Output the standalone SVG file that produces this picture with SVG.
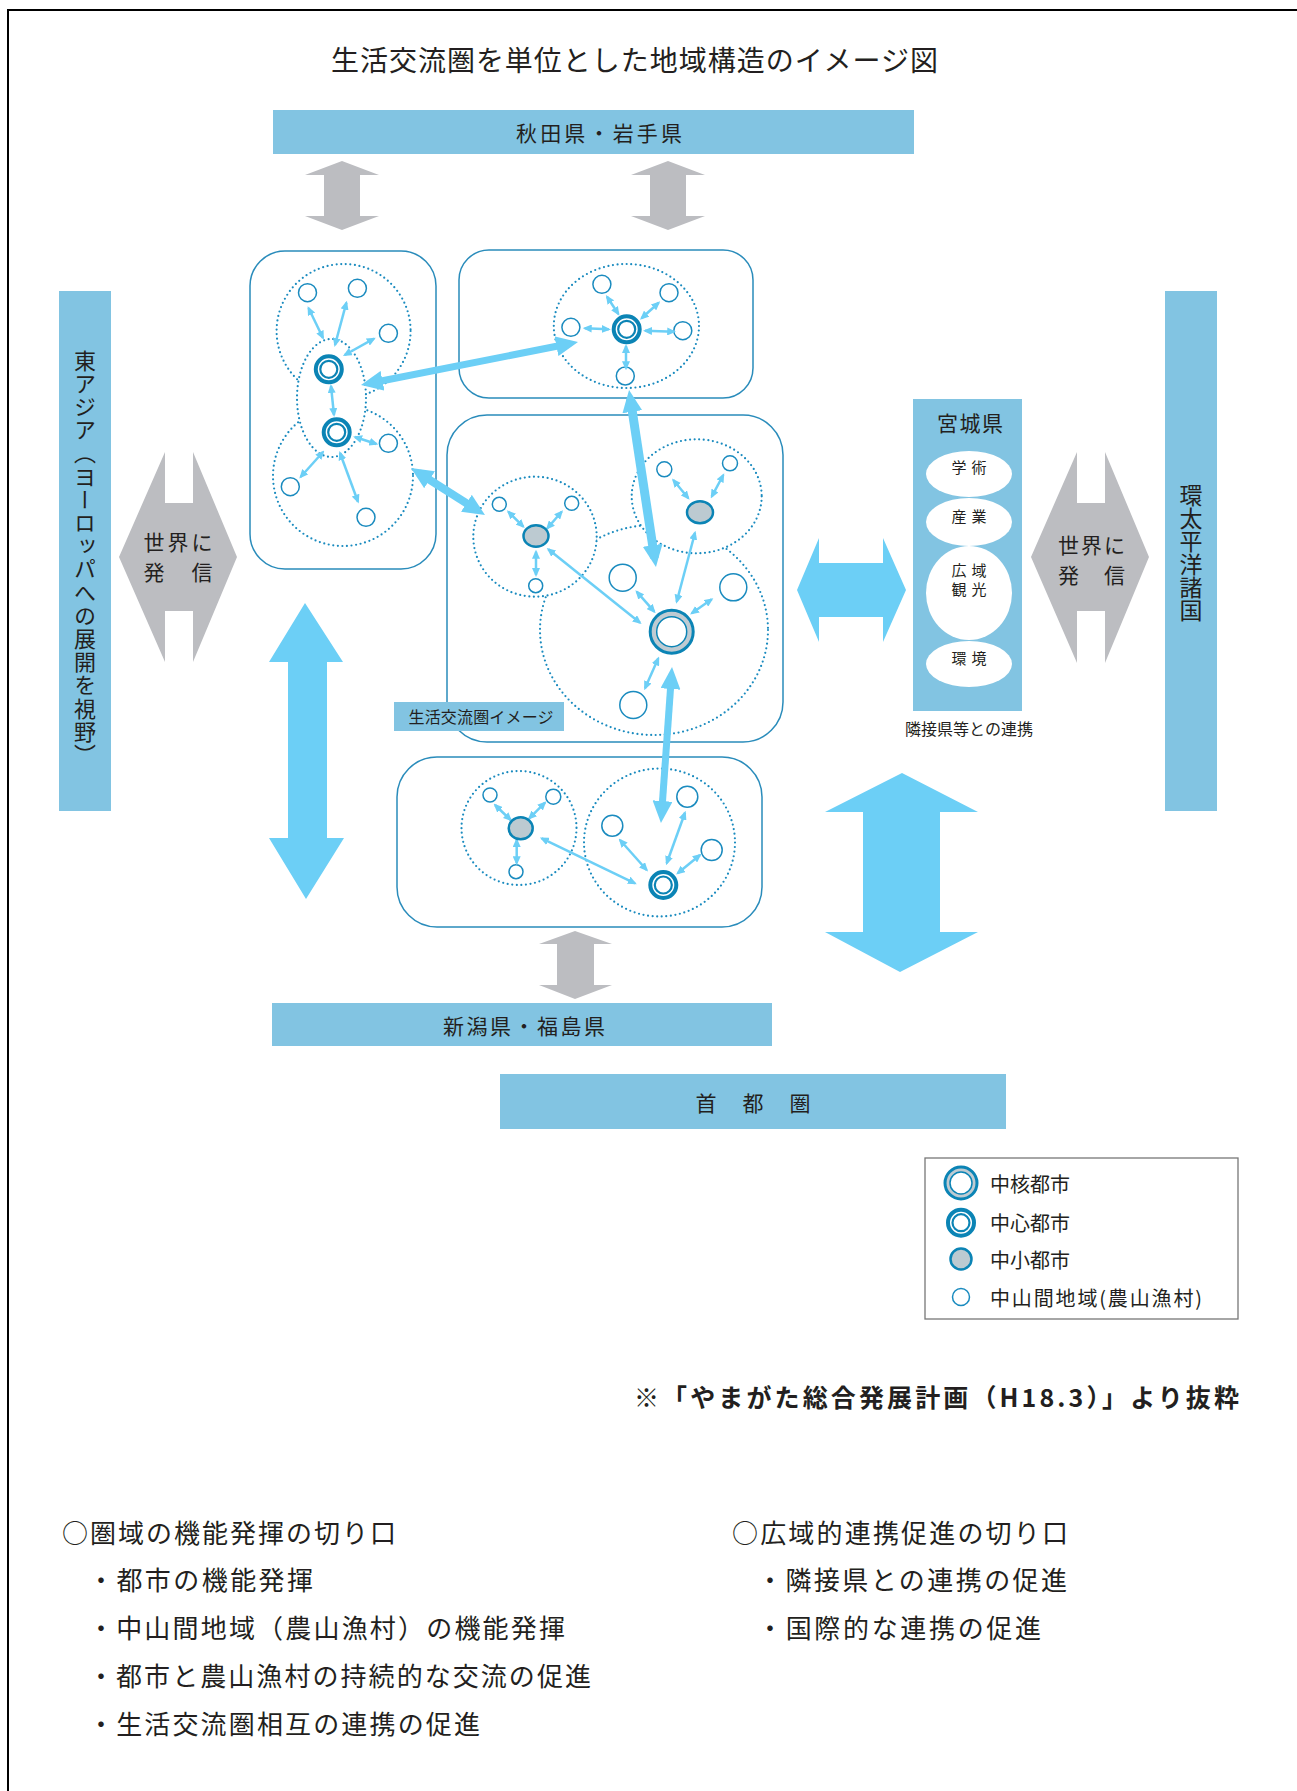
<svg xmlns="http://www.w3.org/2000/svg" width="1297" height="1791" viewBox="0 0 1297 1791">
<defs>
<marker id="ms" viewBox="0 0 9 8" markerWidth="9" markerHeight="8" refX="7" refY="4" orient="auto-start-reverse" markerUnits="userSpaceOnUse"><path d="M0,0 L9,4 L0,8 z" fill="#6ccff6"/></marker>
<marker id="ml" viewBox="0 0 22 20" markerWidth="22" markerHeight="20" refX="13" refY="10" orient="auto-start-reverse" markerUnits="userSpaceOnUse"><path d="M0,0 L22,10 L0,20 z" fill="#6ccff6"/></marker>
<g id="sym-chushin"><circle r="13" fill="#fff" stroke="#0b84b5" stroke-width="4"/><circle r="8.5" fill="none" stroke="#0b84b5" stroke-width="2.2"/></g>
<style>
text{font-family:"Noto Sans CJK JP","Noto Sans",sans-serif;fill:#231f20}
.bar{fill:#82c4e2}
.box{fill:#fff;stroke:#2a8cbb;stroke-width:1.5}
.dot{fill:#fff;stroke:#1a8bbf;stroke-width:2.2;stroke-dasharray:0 4.6;stroke-linecap:round}
.sm{fill:#fff;stroke:#1a8bbf;stroke-width:1.5}
.mid{fill:#bccad1;stroke:#0b84b5;stroke-width:2.5}
.sa{stroke:#6ccff6;stroke-width:2.5;marker-start:url(#ms);marker-end:url(#ms)}
.la{stroke:#6ccff6;marker-start:url(#ml);marker-end:url(#ml)}
.gray{fill:#bcbdc1}
.blue{fill:#6ccff6}
.c{text-anchor:middle;dominant-baseline:central}
.l{dominant-baseline:central}
</style>
</defs>
<rect width="1297" height="1791" fill="#fff"/>
<path d="M8,1791 V10 H1297" fill="none" stroke="#000" stroke-width="2"/>

<text class="c" x="634.5" y="59" font-size="28" textLength="607">生活交流圏を単位とした地域構造のイメージ図</text>

<g id="akita">
<rect class="bar" x="273" y="110" width="641" height="44"/>
<text class="c" x="599" y="132" font-size="21" textLength="166">秋田県・岩手県</text>
</g>
<g id="eastasia">
<rect class="bar" x="59" y="291" width="52" height="520"/>
<text x="85" y="558" text-anchor="middle" font-size="22" letter-spacing="1.2" style="writing-mode:vertical-rl">東アジア（ヨーロッパへの展開を視野）</text>
</g>
<g id="pacific">
<rect class="bar" x="1165" y="291" width="52" height="520"/>
<text x="1191" y="553" text-anchor="middle" font-size="23" style="writing-mode:vertical-rl">環太平洋諸国</text>
</g>
<g id="niigata">
<rect class="bar" x="272" y="1003" width="500" height="43"/>
<text class="c" x="524" y="1025" font-size="21" textLength="162">新潟県・福島県</text>
</g>
<g id="shutoken">
<rect class="bar" x="500" y="1074" width="506" height="55"/>
<text class="c" x="753" y="1102" font-size="21" textLength="115">首　都　圏</text>
</g>

<g id="hex-left">
<polygon class="gray" points="119,557 165,452 165,503 193,503 193,452 237,557 193,662 193,611 165,611 165,662"/>
<text class="c" x="178" y="541" font-size="21" textLength="69">世界に</text>
<text class="c" x="178" y="571" font-size="21" textLength="69">発　信</text>
</g>
<g id="hex-right">
<polygon class="gray" points="1031,557 1077,452 1077,503 1105,503 1105,452 1149,557 1105,663 1105,611 1077,611 1077,663"/>
<text class="c" x="1091.5" y="544" font-size="21" textLength="67">世界に</text>
<text class="c" x="1091.5" y="574" font-size="21" textLength="67">発　信</text>
</g>

<g id="miyagi">
<rect class="bar" x="913" y="399" width="109" height="312"/>
<text class="c" x="970" y="422" font-size="21" textLength="66">宮城県</text>
<ellipse cx="969" cy="474" rx="43" ry="23" fill="#fff"/>
<ellipse cx="969" cy="522" rx="43" ry="24" fill="#fff"/>
<ellipse cx="969" cy="593" rx="43" ry="47" fill="#fff"/>
<ellipse cx="969" cy="664" rx="43" ry="23" fill="#fff"/>
<text class="c" x="969" y="466" font-size="15" textLength="35">学 術</text>
<text class="c" x="969" y="515" font-size="15" textLength="35">産 業</text>
<text class="c" x="969" y="569" font-size="15" textLength="35">広 域</text>
<text class="c" x="969" y="588" font-size="15" textLength="35">観 光</text>
<text class="c" x="969" y="657" font-size="15" textLength="35">環 境</text>
<text class="c" x="969" y="728" font-size="16" textLength="128">隣接県等との連携</text>
</g>

<g id="box-a">
<rect class="box" x="250" y="251" width="186" height="318" rx="35"/>
<ellipse class="dot" cx="343.6" cy="331" rx="67" ry="67"/>
<ellipse class="dot" cx="343" cy="476" rx="70" ry="70"/>
<ellipse class="dot" cx="331.5" cy="398" rx="34.5" ry="59"/>
<circle class="sm" cx="307.5" cy="292.7" r="9"/>
<circle class="sm" cx="357.4" cy="288.3" r="9"/>
<circle class="sm" cx="388.4" cy="333.3" r="9"/>
<circle class="sm" cx="388.4" cy="443.3" r="9"/>
<circle class="sm" cx="290.3" cy="486.7" r="9"/>
<circle class="sm" cx="366" cy="517.3" r="9"/>
</g>
<g id="box-b">
<rect class="box" x="459" y="250" width="294" height="148" rx="30"/>
<ellipse class="dot" cx="626.4" cy="326" rx="72.6" ry="62"/>
<circle class="sm" cx="601.9" cy="284.3" r="9"/>
<circle class="sm" cx="669" cy="292.7" r="9"/>
<circle class="sm" cx="570.9" cy="327.3" r="9"/>
<circle class="sm" cx="682.8" cy="330.7" r="9"/>
<circle class="sm" cx="625.3" cy="376" r="9"/>
</g>
<g id="box-c">
<rect class="box" x="447" y="415" width="336" height="327" rx="40"/>
<ellipse class="dot" cx="654" cy="630" rx="114" ry="105"/>
<ellipse class="dot" cx="535" cy="536.7" rx="61.7" ry="60"/>
<ellipse class="dot" cx="696.7" cy="496.3" rx="65" ry="57"/>
<circle class="sm" cx="499.3" cy="504.3" r="7"/>
<circle class="sm" cx="571.7" cy="503.3" r="7"/>
<circle class="sm" cx="535.7" cy="585.7" r="7"/>
<circle class="sm" cx="664.3" cy="469.3" r="7.5"/>
<circle class="sm" cx="730" cy="463.3" r="7.5"/>
<circle class="sm" cx="622.7" cy="577.7" r="13.5"/>
<circle class="sm" cx="733.3" cy="587.3" r="13.5"/>
<circle class="sm" cx="633.3" cy="705" r="13.5"/>
</g>
<g id="box-d">
<rect class="box" x="397" y="757" width="365" height="170" rx="40"/>
<ellipse class="dot" cx="519" cy="828" rx="57.5" ry="57"/>
<ellipse class="dot" cx="659.5" cy="842.5" rx="75.5" ry="74"/>
<circle class="sm" cx="490" cy="795" r="7"/>
<circle class="sm" cx="553.3" cy="796.7" r="7.5"/>
<circle class="sm" cx="516" cy="871.7" r="7"/>
<circle class="sm" cx="612.3" cy="825.7" r="10.5"/>
<circle class="sm" cx="687.3" cy="796.7" r="10.5"/>
<circle class="sm" cx="711.7" cy="850" r="10.5"/>
</g>
<g id="label-image">
<rect class="bar" x="394" y="702" width="170" height="29"/>
<text class="c" x="481" y="716" font-size="16" textLength="145">生活交流圏イメージ</text>
</g>

<g id="connectors">
<polygon class="gray" points="342,161 379,175 360,175 360,216 379,216 342,230 305,216 324,216 324,175 305,175"/>
<polygon class="gray" points="668,161 705,175 686,175 686,216 705,216 668,230 631,216 650,216 650,175 631,175"/>
<polygon class="gray" points="575,931 612,944 594,944 594,985 612,985 575,999 539,985 557,985 557,944 539,944"/>
<polygon class="blue" points="305,603 343,662 327,662 327,838 344,838 306,899 269,838 288,838 288,662 269,662"/>
<polygon class="blue" points="902,773 978,812 940,812 940,932 978,932 900,972 825,932 863,932 863,812 825,812"/>
<polygon class="blue" points="797,590 819,538 819,563 883,563 883,538 906,590 883,642 883,617 819,617 819,642"/>
<line class="sa" x1="323" y1="338" x2="308.5" y2="308"/>
<line class="sa" x1="335" y1="345" x2="346.4" y2="302.7"/>
<line class="sa" x1="344.7" y1="355" x2="374" y2="338.7"/>
<line class="sa" x1="331" y1="386" x2="334" y2="415"/>
<line class="sa" x1="355" y1="437" x2="376.4" y2="444"/>
<line class="sa" x1="323" y1="452" x2="300.6" y2="477"/>
<line class="sa" x1="340" y1="453" x2="358" y2="501.7"/>
<line class="sa" x1="607" y1="296.7" x2="618.4" y2="314"/>
<line class="sa" x1="658.7" y1="302.7" x2="641.5" y2="318.3"/>
<line class="sa" x1="584.7" y1="328.3" x2="608.8" y2="329.3"/>
<line class="sa" x1="645" y1="330.7" x2="674.2" y2="331.7"/>
<line class="sa" x1="626" y1="346" x2="626" y2="368.3"/>
<line class="sa" x1="508.3" y1="511.7" x2="523.3" y2="526.7"/>
<line class="sa" x1="561.7" y1="511.7" x2="547.3" y2="528.3"/>
<line class="sa" x1="536" y1="551.7" x2="536" y2="575"/>
<line class="sa" x1="673.3" y1="480" x2="688.3" y2="498.3"/>
<line class="sa" x1="723.3" y1="475" x2="711.7" y2="496.7"/>
<line class="sa" x1="636.7" y1="591.7" x2="654.3" y2="611.7"/>
<line class="sa" x1="711.7" y1="599.3" x2="691.7" y2="613.3"/>
<line class="sa" x1="658.3" y1="658.3" x2="645" y2="688.3"/>
<line class="sa" x1="695" y1="532.7" x2="676.7" y2="601.7"/>
<line class="sa" x1="548.3" y1="549.3" x2="640" y2="622.7"/>
<line class="sa" x1="495" y1="805" x2="510.7" y2="820"/>
<line class="sa" x1="545" y1="802.7" x2="529.3" y2="818.3"/>
<line class="sa" x1="516.7" y1="840" x2="516.7" y2="863.3"/>
<line class="sa" x1="620" y1="840" x2="646.7" y2="870"/>
<line class="sa" x1="685" y1="812.7" x2="666.7" y2="863.3"/>
<line class="sa" x1="700" y1="855" x2="677.7" y2="873.3"/>
<line class="sa" x1="541.7" y1="838.3" x2="635" y2="883.3"/>
<line class="la" x1="369.8" y1="383.3" x2="569.2" y2="343.7" stroke-width="7"/>
<line class="la" x1="418.6" y1="472.8" x2="477.4" y2="510.2" stroke-width="8"/>
<line class="la" x1="630.4" y1="398.9" x2="654.6" y2="558.1" stroke-width="9"/>
<line class="la" x1="671.4" y1="676" x2="661.6" y2="814" stroke-width="7"/>
</g>

<g id="cities">
<use href="#sym-chushin" x="328.8" y="369.3"/>
<use href="#sym-chushin" x="336.7" y="432.3"/>
<use href="#sym-chushin" x="626.7" y="329.3"/>
<use href="#sym-chushin" x="663.3" y="885"/>
<ellipse class="mid" cx="536" cy="536" rx="12.5" ry="10.8"/>
<ellipse class="mid" cx="700" cy="512.3" rx="13" ry="11"/>
<ellipse class="mid" cx="520.7" cy="828.3" rx="12" ry="11"/>
<circle cx="671.7" cy="631.7" r="21.5" fill="#bfcbd2" stroke="#0b84b5" stroke-width="3"/>
<circle cx="671.7" cy="631.7" r="15" fill="#fff" stroke="#0b84b5" stroke-width="1.5"/>
</g>

<g id="legend">
<rect x="925" y="1158" width="313" height="161" fill="#fff" stroke="#777" stroke-width="1.3"/>
<circle cx="961" cy="1183" r="16" fill="#bfcbd2" stroke="#0b84b5" stroke-width="3"/>
<circle cx="961" cy="1183" r="11" fill="#fff" stroke="#0b84b5" stroke-width="1.5"/>
<use href="#sym-chushin" x="961" y="1222.7"/>
<circle class="mid" cx="961" cy="1259" r="10.5"/>
<circle class="sm" cx="961" cy="1297" r="8.5"/>
<text class="l" x="990" y="1183" font-size="20">中核都市</text>
<text class="l" x="990" y="1222" font-size="20">中心都市</text>
<text class="l" x="990" y="1259" font-size="20">中小都市</text>
<text class="l" x="990" y="1297" font-size="20" textLength="212">中山間地域(農山漁村)</text>
</g>

<text class="l" x="634" y="1396" font-size="25" font-weight="bold" textLength="605">※「やまがた総合発展計画（H18.3）」より抜粋</text>

<g id="notes" font-size="26">
<text class="l" x="62" y="1531" textLength="334">○圏域の機能発揮の切り口</text>
<text class="l" x="88" y="1578" textLength="225">・都市の機能発揮</text>
<text class="l" x="88" y="1626" textLength="477">・中山間地域（農山漁村）の機能発揮</text>
<text class="l" x="88" y="1674" textLength="503">・都市と農山漁村の持続的な交流の促進</text>
<text class="l" x="88" y="1722" textLength="392">・生活交流圏相互の連携の促進</text>
<text class="l" x="732" y="1531" textLength="336">○広域的連携促進の切り口</text>
<text class="l" x="757" y="1578" textLength="310">・隣接県との連携の促進</text>
<text class="l" x="757" y="1626" textLength="284">・国際的な連携の促進</text>
</g>
</svg>
